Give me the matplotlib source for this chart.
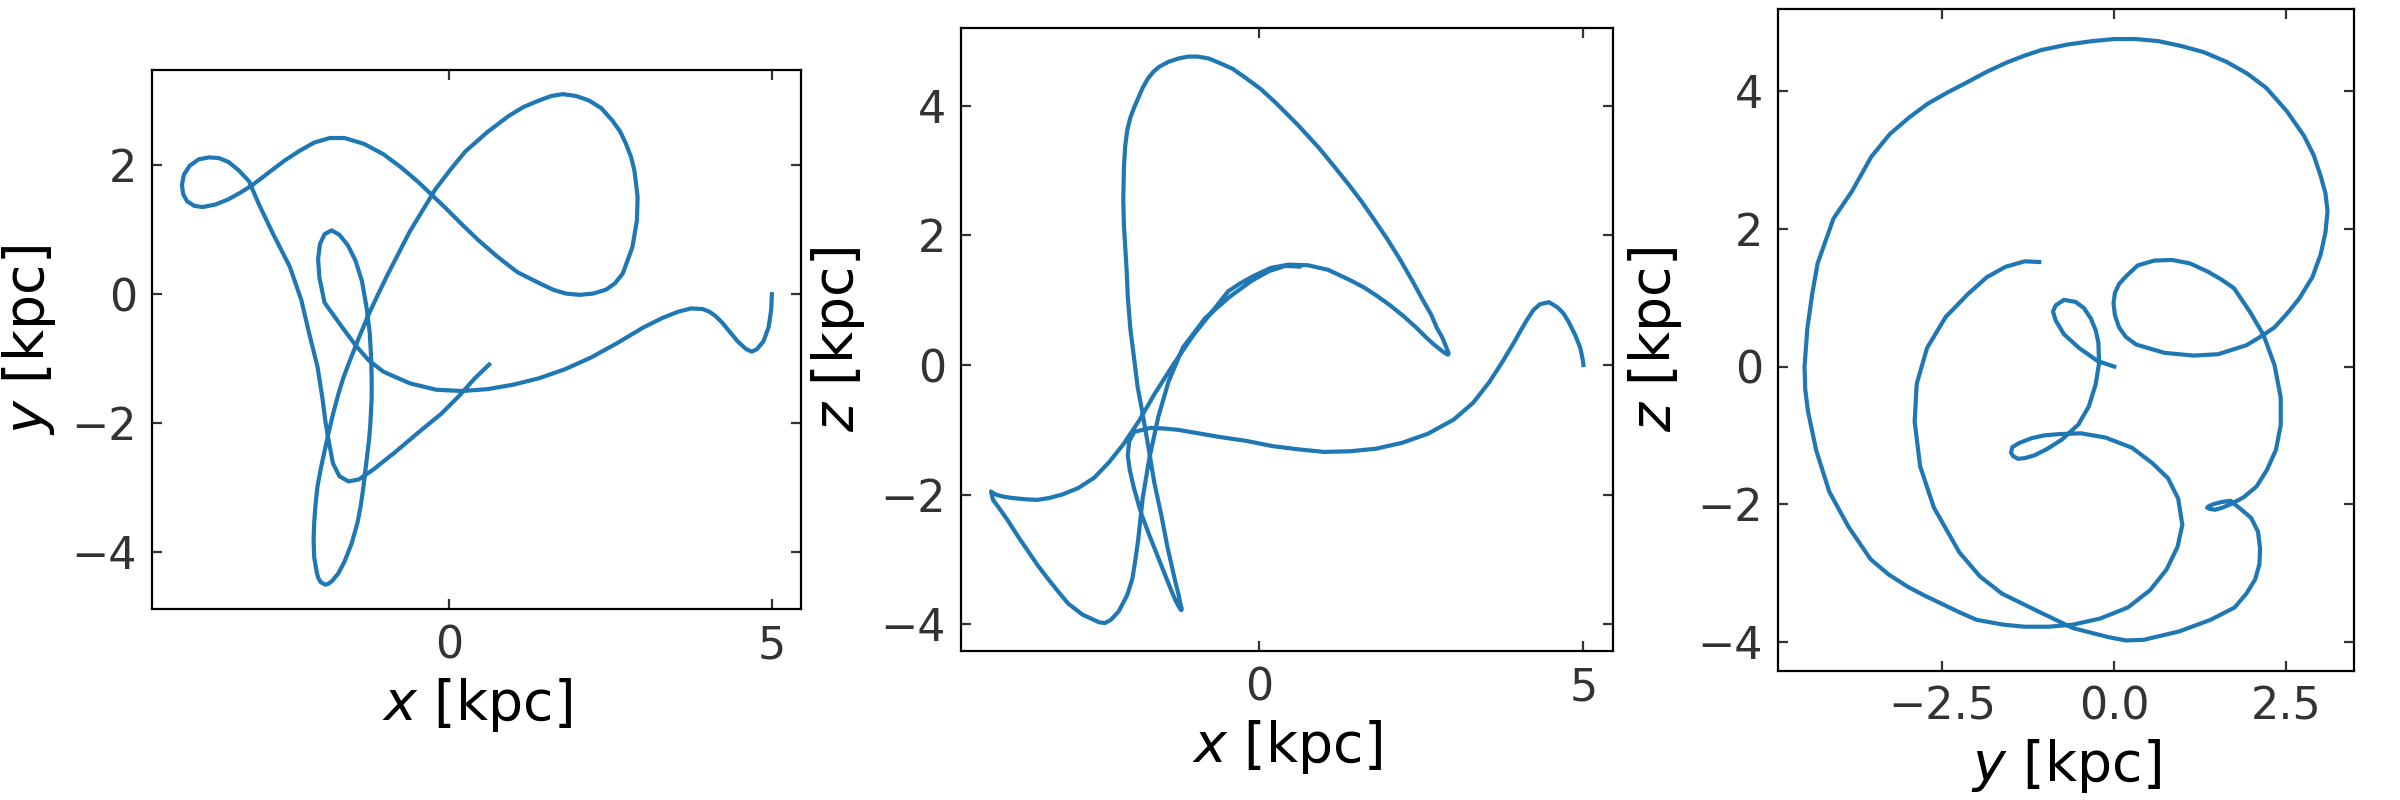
import matplotlib
matplotlib.use("Agg")
import matplotlib.pyplot as plt
from matplotlib.ticker import MultipleLocator

x = [5.00, 4.99, 4.95, 4.87, 4.77, 4.69, 4.60, 4.47, 4.33, 4.23,
     4.13, 4.03, 3.93, 3.75, 3.55, 3.30, 3.00, 2.60, 2.20, 1.80,
     1.40, 1.00, 0.60, 0.20, -0.20, -0.61, -1.02, -1.25, -1.45, -1.68,
     -1.93, -2.01, -2.03, -2.00, -1.93, -1.82, -1.70, -1.57, -1.45, -1.35,
     -1.28, -1.23, -1.21, -1.20, -1.20, -1.22, -1.24, -1.27, -1.30, -1.33,
     -1.37, -1.42, -1.51, -1.62, -1.72, -1.82, -1.88, -1.92, -1.99, -2.03,
     -2.05, -2.09, -2.10, -2.09, -2.07, -2.04, -1.99, -1.93, -1.87, -1.80,
     -1.72, -1.64, -1.55, -1.40, -1.25, -1.10, -0.95, -0.78, -0.61, -0.41,
     -0.21, 0.02, 0.25, 0.59, 0.92, 1.15, 1.39, 1.58, 1.76, 1.97,
     2.17, 2.36, 2.53, 2.65, 2.74, 2.82, 2.87, 2.92, 2.91, 2.84,
     2.69, 2.57, 2.43, 2.23, 2.02, 1.81, 1.61, 1.40, 1.06, 0.75,
     0.45, 0.18, -0.08, -0.28, -0.48, -0.75, -1.02, -1.32, -1.62, -1.85,
     -2.09, -2.32, -2.55, -2.80, -3.05, -3.24, -3.42, -3.62, -3.82, -3.95,
     -4.06, -4.12, -4.14, -4.11, -4.02, -3.88, -3.72, -3.57, -3.42, -3.26,
     -3.10, -2.95, -2.73, -2.47, -2.38, -2.29, -2.17, -2.04, -1.96, -1.92,
     -1.87, -1.80, -1.70, -1.56, -1.40, -1.18, -0.84, -0.45, -0.12, 0.15,
     0.40, 0.62]
y = [0.00, -0.24, -0.51, -0.73, -0.85, -0.89, -0.85, -0.73, -0.56, -0.44,
     -0.34, -0.27, -0.23, -0.22, -0.27, -0.37, -0.52, -0.76, -0.98, -1.16,
     -1.30, -1.40, -1.47, -1.50, -1.48, -1.38, -1.20, -1.02, -0.79, -0.48,
     -0.13, 0.26, 0.55, 0.78, 0.93, 0.99, 0.92, 0.76, 0.52, 0.20,
     -0.20, -0.60, -0.95, -1.30, -1.61, -2.00, -2.25, -2.50, -2.75, -3.00,
     -3.28, -3.54, -3.86, -4.14, -4.33, -4.45, -4.49, -4.50, -4.46, -4.39,
     -4.31, -4.08, -3.81, -3.53, -3.26, -2.98, -2.71, -2.43, -2.16, -1.86,
     -1.56, -1.30, -1.06, -0.68, -0.32, 0.00, 0.31, 0.64, 0.97, 1.30,
     1.63, 1.93, 2.21, 2.51, 2.76, 2.90, 3.00, 3.07, 3.10, 3.07,
     3.00, 2.88, 2.69, 2.52, 2.33, 2.12, 1.92, 1.51, 1.15, 0.73,
     0.32, 0.17, 0.07, 0.01, -0.01, 0.01, 0.07, 0.17, 0.34, 0.58,
     0.84, 1.10, 1.36, 1.55, 1.74, 1.97, 2.17, 2.33, 2.42, 2.42,
     2.35, 2.22, 2.07, 1.88, 1.69, 1.57, 1.47, 1.39, 1.35, 1.37,
     1.44, 1.55, 1.69, 1.85, 1.99, 2.09, 2.12, 2.11, 2.05, 1.92,
     1.75, 1.40, 0.94, 0.43, 0.17, -0.09, -0.60, -1.12, -1.63, -1.95,
     -2.25, -2.62, -2.82, -2.90, -2.87, -2.72, -2.45, -2.12, -1.85, -1.58,
     -1.30, -1.09]
z = [0.00, 0.08, 0.27, 0.47, 0.67, 0.80, 0.89, 0.97, 0.94, 0.85,
     0.70, 0.53, 0.35, 0.05, -0.26, -0.58, -0.84, -1.06, -1.20, -1.29,
     -1.33, -1.34, -1.30, -1.25, -1.17, -1.11, -1.04, -1.00, -0.98, -0.97,
     -1.03, -1.18, -1.40, -1.62, -1.92, -2.30, -2.62, -2.95, -3.25, -3.50,
     -3.66, -3.75, -3.78, -3.78, -3.75, -3.68, -3.57, -3.45, -3.33, -3.20,
     -3.02, -2.80, -2.33, -1.82, -1.22, -0.65, -0.33, 0.00, 0.55, 1.05,
     1.50, 2.15, 2.55, 3.05, 3.38, 3.62, 3.82, 3.98, 4.12, 4.28,
     4.42, 4.52, 4.60, 4.68, 4.73, 4.76, 4.76, 4.73, 4.66, 4.57,
     4.43, 4.26, 4.05, 3.71, 3.35, 3.07, 2.77, 2.52, 2.26, 1.95,
     1.63, 1.30, 0.99, 0.78, 0.57, 0.43, 0.31, 0.18, 0.16, 0.20,
     0.32, 0.43, 0.57, 0.75, 0.92, 1.07, 1.20, 1.31, 1.47, 1.54,
     1.55, 1.50, 1.38, 1.27, 1.14, 0.80, 0.46, 0.02, -0.45, -0.85,
     -1.21, -1.50, -1.74, -1.90, -2.00, -2.05, -2.08, -2.07, -2.05, -2.03,
     -2.00, -1.97, -1.95, -2.08, -2.20, -2.40, -2.65, -2.87, -3.09, -3.30,
     -3.50, -3.68, -3.85, -3.97, -3.98, -3.93, -3.80, -3.55, -3.30, -3.05,
     -2.70, -2.05, -1.45, -0.80, -0.25, 0.27, 0.72, 1.06, 1.30, 1.45,
     1.53, 1.52]

panels = [
    ("x", "y", x, y, 5, 2),
    ("x", "z", x, z, 5, 2),
    ("y", "z", y, z, 2.5, 2),
]
rects = [
    [0.0628, 0.2385, 0.2718, 0.6745],
    [0.4006, 0.1858, 0.2715, 0.7789],
    [0.7410, 0.1598, 0.2397, 0.8310],
]

fig = plt.figure(figsize=(12, 4), dpi=200)
for (hname, vname, hv, vv, hstep, vstep), rect in zip(panels, rects):
    ax = fig.add_axes(rect)
    ax.plot(hv, vv, color="#1f77b4", lw=1.5)
    ax.set_aspect("equal")
    ax.xaxis.set_major_locator(MultipleLocator(hstep))
    ax.yaxis.set_major_locator(MultipleLocator(vstep))
    ax.tick_params(direction="in", top=True, right=True, length=3.5,
                   width=0.8, color="#333333", labelcolor="#333333",
                   labelsize=16, pad=5.5)
    ax.set_xlabel(f"${hname}$ [kpc]", fontsize=20, labelpad=3)
    ax.set_ylabel(f"${vname}$ [kpc]", fontsize=20, labelpad=5)

fig.savefig("out.png", dpi=200)
